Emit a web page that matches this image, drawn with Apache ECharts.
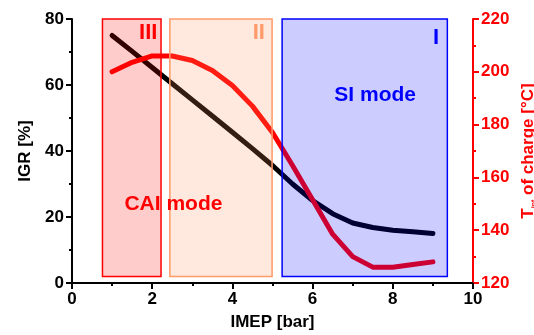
<!DOCTYPE html>
<html>
<head>
<meta charset="utf-8">
<script src="https://cdn.jsdelivr.net/npm/echarts@6/dist/echarts.min.js"></script>
<style>html,body{margin:0;padding:0;background:#fff}#c{width:534px;height:335px}</style>
</head>
<body>
<div id="c"></div>
<script>
// ---- data ----
const imep = [1, 1.5, 2, 2.5, 3, 3.5, 4, 4.5, 5, 5.5, 6, 6.5, 7, 7.5, 8, 8.5, 9];
const igr = [75, 70.2, 65.3, 60.4, 55.5, 50.6, 45.7, 40.7, 35.6, 30, 25, 21, 18.2, 16.8, 16, 15.5, 15];
const tCharge = [200, 203.6, 206, 206, 204.3, 200.5, 194.8, 187, 177, 164.5, 151.5, 138.5, 130, 126, 126, 127, 128];
// mode regions: [xStart, xEnd, igrBottom, igrTop]
const modeRegions = [[0.76, 2.22, 2, 80], [2.44, 4.99, 2, 80], [5.24, 9.36, 2, 80]];
const regionNames = ['III', 'II', 'I'];
const modeLabels = ['CAI mode', 'SI mode'];

const regionFill = ['rgba(255,0,0,0.2)', 'rgba(255,140,90,0.2)', 'rgba(0,0,255,0.2)'];
const regionStroke = ['#ff0000', '#ff9a6a', '#0000ff'];
const regionText = ['#ff0000', '#ff9a6a', '#0000ff'];
// annotation anchors (data coords)
const regionLabelPos = [[1.9, 75.9], [4.66, 75.7], [9.08, 74.4]];
const modeLabelPos = [[2.53, 23.9], [7.56, 57]];
const modeLabelColor = ['#ff0000', '#0000ff'];

const FONT = 'Liberation Sans, Arial, sans-serif';
const chart = echarts.init(document.getElementById('c'));

const axisCommon = (color) => ({
  axisLine: { show: true, lineStyle: { color: color, width: 2 } },
  axisTick: { show: true, inside: false, length: 6, lineStyle: { color: color, width: 2 } },
  minorTick: { show: true, splitNumber: 2, length: 3, lineStyle: { color: color, width: 2 } },
  splitLine: { show: false },
  axisLabel: { color: color, fontFamily: FONT, fontWeight: 'bold', fontSize: 17 },
  nameTextStyle: { color: color, fontFamily: FONT, fontWeight: 'bold', fontSize: 17 }
});

chart.setOption({
  animation: false,
  grid: { left: 72, right: 61, top: 19, bottom: 52, containLabel: false, outerBoundsMode: 'none' },
  xAxis: Object.assign({
    type: 'value', min: 0, max: 10, interval: 2,
    name: 'IMEP [bar]', nameLocation: 'middle', nameGap: 31
  }, axisCommon('#000')),
  yAxis: [
    Object.assign({
      type: 'value', min: 0, max: 80, interval: 20,
      name: 'IGR [%]', nameLocation: 'middle', nameGap: 38, position: 'left'
    }, axisCommon('#000')),
    Object.assign({
      type: 'value', min: 120, max: 220, interval: 20, position: 'right',
      name: '{a|T}{s|int}{a| of charge [°C]}', nameLocation: 'middle', nameGap: 45
    }, axisCommon('#ff0000'))
  ],
  series: [
    {
      type: 'line', yAxisIndex: 0, z: 2, showSymbol: false, symbol: 'none',
      lineStyle: { color: '#000', width: 5, cap: 'round', join: 'round' },
      data: imep.map((x, i) => [x, igr[i]])
    },
    {
      type: 'line', yAxisIndex: 1, z: 2, showSymbol: false, symbol: 'none',
      lineStyle: { color: '#ff0000', width: 5, cap: 'round', join: 'round' },
      data: imep.map((x, i) => [x, tCharge[i]])
    },
    {
      type: 'custom', yAxisIndex: 0, z: 5, clip: false,
      data: modeRegions,
      renderItem: function (params, api) {
        const i = params.dataIndex;
        const p0 = api.coord([api.value(0), api.value(3)]);
        const p1 = api.coord([api.value(1), api.value(2)]);
        return {
          type: 'rect',
          shape: { x: p0[0], y: p0[1], width: p1[0] - p0[0], height: p1[1] - p0[1] },
          style: { fill: regionFill[i], stroke: regionStroke[i], lineWidth: 1.5 }
        };
      }
    },
    {
      type: 'custom', yAxisIndex: 0, z: 10, clip: false,
      data: regionLabelPos,
      renderItem: function (params, api) {
        const i = params.dataIndex;
        const p = api.coord([api.value(0), api.value(1)]);
        return {
          type: 'text', x: p[0], y: p[1],
          style: { text: regionNames[i], fill: regionText[i], font: 'bold 22px ' + FONT, align: 'center', verticalAlign: 'middle' }
        };
      }
    },
    {
      type: 'custom', yAxisIndex: 0, z: 10, clip: false,
      data: modeLabelPos,
      renderItem: function (params, api) {
        const i = params.dataIndex;
        const p = api.coord([api.value(0), api.value(1)]);
        return {
          type: 'text', x: p[0], y: p[1],
          style: { text: modeLabels[i], fill: modeLabelColor[i], font: 'bold 21px ' + FONT, align: 'center', verticalAlign: 'middle' }
        };
      }
    }
  ]
});
chart.setOption({
  yAxis: [{}, {
    nameTextStyle: {
      rich: {
        a: { color: '#ff0000', fontFamily: FONT, fontWeight: 'bold', fontSize: 17 },
        s: { color: '#ff0000', fontFamily: FONT, fontWeight: 'bold', fontSize: 7, verticalAlign: 'bottom', padding: [8, 0, 0, 0] }
      }
    }
  }]
});
</script>
</body>
</html>
